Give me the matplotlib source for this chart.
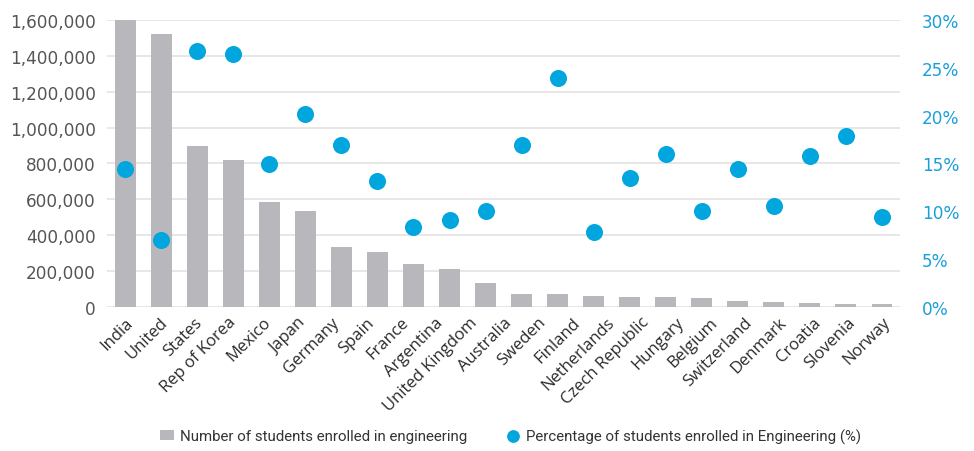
import matplotlib.pyplot as plt
import numpy as np
from matplotlib.ticker import FuncFormatter, PercentFormatter

# tick labels as printed under the axis (the source split "United States" in two)
tick_labels = ['India', 'United', 'States', 'Rep of Korea', 'Mexico', 'Japan',
               'Germany', 'Spain', 'France', 'Argentina', 'United Kingdom',
               'Australia', 'Sweden', 'Finland', 'Netherlands', 'Czech Republic',
               'Hungary', 'Belgium', 'Switzerland', 'Denmark', 'Croatia',
               'Slovenia', 'Norway']

students = [1600000, 1520000, 895000, 821000, 586000, 537000, 333000, 305000,
            240000, 211000, 135000, 72000, 72000, 61000, 57000, 56000, 48000,
            35000, 28000, 22000, 18000, 17000]

pct = [14.4, 7.0, 26.8, 26.4, 14.9, 20.2, 16.9, 13.2, 8.4, 9.1, 10.0, 16.9,
       23.9, 7.8, 13.5, 16.0, 10.0, 14.4, 10.6, 15.8, 17.9, 9.4]

grey = '#b8b7bc'
blue = '#00a6dd'

fig = plt.figure(figsize=(9.74, 4.52), dpi=100)
ax = fig.add_axes([0.110, 0.3186, 0.814, 0.635])
ax2 = ax.twinx()

x = np.arange(len(students))
ax.bar(x, students, width=0.58, color=grey, zorder=2,
       label='Number of students enrolled in engineering')
ax2.scatter(x, pct, s=150, color=blue, zorder=3, linewidths=0,
            label='Percentage of students enrolled in Engineering (%)')

ax.set_xlim(-0.5, 21.5)
ax.set_ylim(0, 1600000)
ax.set_yticks(np.arange(0, 1600001, 200000))
ax.yaxis.set_major_formatter(FuncFormatter(lambda v, p: f'{int(v):,}'))
ax2.set_ylim(0, 30)
ax2.set_yticks(np.arange(0, 31, 5))
ax2.yaxis.set_major_formatter(PercentFormatter(decimals=0))

ax.grid(axis='y', color='#e3e3e3', linewidth=1.2, zorder=0)
ax.set_axisbelow(True)
for a in (ax, ax2):
    for s in a.spines.values():
        s.set_visible(False)
    a.tick_params(length=0)

ax.tick_params(axis='y', labelsize=12.2, labelcolor='#555555', pad=8)
ax2.tick_params(axis='y', labelsize=12.2, labelcolor='#1a9fd9', pad=16)

# labels spread evenly between first and last bar
ax.set_xticks(np.linspace(0, len(students) - 1, len(tick_labels)))
ax.set_xticklabels(tick_labels, rotation=45, ha='right', rotation_mode='anchor',
                   fontsize=12, color='#2b2b2b', family='Open Sans')
ax.tick_params(axis='x', pad=5)

h1, l1 = ax.get_legend_handles_labels()
h2, l2 = ax2.get_legend_handles_labels()
fig.legend(h1 + h2, l1 + l2, loc='center', bbox_to_anchor=(0.524, 0.033),
           ncol=2, frameon=False, columnspacing=2.6, handletextpad=0.4,
           handlelength=0.9, markerscale=0.75,
           prop={'family': 'Roboto', 'size': 10.8}, labelcolor='#333333')

fig.savefig('out.png', dpi=100)
